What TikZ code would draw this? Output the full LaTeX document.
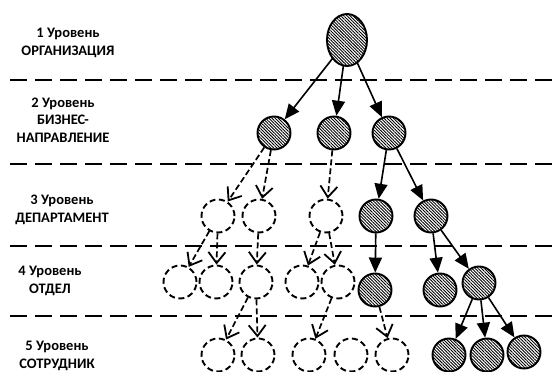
\documentclass[tikz,border=0pt]{standalone}
\usepackage{fontspec}
\setmainfont{Carlito}
\usetikzlibrary{arrows.meta,shapes.geometric,patterns.meta}

\begin{document}
\begin{tikzpicture}[x=1pt,y=-1pt,
   lvltext/.style={font=\bfseries\fontsize{14.5}{17.5}\selectfont, align=center},
   unit/.style={circle, line width=1.9pt, minimum size=33pt, inner sep=0pt},
   hatched/.style={draw=black, pattern={Lines[angle=-45,distance=2.2pt,line width=0.9pt]}, pattern color=black},
   empty/.style={draw=black, dash pattern=on 6pt off 3.5pt},
   solidarrow/.style={line width=1.6pt, -{Triangle[length=15pt,width=13pt]}},
   dasharrow/.style={line width=1.7pt, dash pattern=on 6pt off 3pt, -{Straight Barb[length=11pt,width=17pt,line width=1.8pt]}},
   levelline/.style={line width=1.6pt, dash pattern=on 17pt off 8pt}]
   \useasboundingbox (0,0) rectangle (555,372);

   % level texts
   \node[lvltext] (txt1) at (68,43) {1 Уровень\\ОРГАНИЗАЦИЯ};
   \node[lvltext] (txt2) at (63,120) {2 Уровень\\БИЗНЕС-\\НАПРАВЛЕНИЕ};
   \node[lvltext] (txt3) at (62,210) {3 Уровень\\ДЕПАРТАМЕНТ};
   \node[lvltext] (txt4) at (50,281) {4 Уровень\\ОТДЕЛ};
   \node[lvltext] (txt5) at (57,356) {5 Уровень\\СОТРУДНИК};

   % level borders
   \foreach \y in {80,164,246,316}
      \draw[levelline] (10,\y) -- (555,\y);

   % level 1
   \node[ellipse, line width=1.9pt, minimum width=40pt, minimum height=52pt, hatched] (org) at (347,40) {};

   % level 2
   \node[unit, hatched] (biz1) at (274,133) {};
   \node[unit, hatched] (biz2) at (334,133) {};
   \node[unit, hatched] (biz3) at (389,133) {};

   % level 3
   \node[unit, empty] (dep1) at (218,216) {};
   \node[unit, empty] (dep2) at (259,216) {};
   \node[unit, empty] (dep3) at (326,216) {};
   \node[unit, hatched] (dep4) at (376,216) {};
   \node[unit, hatched] (dep5) at (431,216) {};

   % level 4
   \node[unit, empty] (dpt1) at (180,282) {};
   \node[unit, empty] (dpt2) at (216,282) {};
   \node[unit, empty] (dpt3) at (256,282) {};
   \node[unit, empty] (dpt4) at (302,282) {};
   \node[unit, empty] (dpt5) at (338,282) {};
   \node[unit, hatched] (dpt6) at (375,290) {};
   \node[unit, hatched] (dpt7) at (440,290) {};
   \node[unit, hatched] (dpt8) at (479,283) {};

   % level 5
   \node[unit, empty] (emp1) at (218,355) {};
   \node[unit, empty] (emp2) at (258,355) {};
   \node[unit, empty] (emp3) at (309,355) {};
   \node[unit, empty] (emp4) at (351,355) {};
   \node[unit, empty] (emp5) at (392,355) {};
   \node[unit, hatched] (emp6) at (449,355) {};
   \node[unit, hatched] (emp7) at (487,355) {};
   \node[unit, hatched] (emp8) at (524,352) {};

   % links
   \foreach \t in {biz1,biz2,biz3}
      \draw[solidarrow] (org) -- (\t);
   \draw[dasharrow] (biz1) -- (dep1);
   \draw[dasharrow] (biz1) -- (dep2);
   \draw[dasharrow] (biz2) -- (dep3);
   \draw[solidarrow] (biz3) -- (dep4);
   \draw[solidarrow] (biz3) -- (dep5);

   \draw[dasharrow] (dep1) -- (dpt1);
   \draw[dasharrow] (dep1) -- (dpt2);
   \draw[dasharrow] (dep2) -- (dpt3);
   \draw[dasharrow] (dep3) -- (dpt4);
   \draw[dasharrow] (dep3) -- (dpt5);
   \draw[solidarrow] (dep4) -- (dpt6);
   \draw[solidarrow] (dep5) -- (dpt7);
   \draw[solidarrow] (dep5) -- (dpt8);

   \draw[dasharrow] (dpt3) -- (emp1);
   \draw[dasharrow] (dpt3) -- (emp2);
   \draw[dasharrow] (dpt5) -- (emp3);
   \draw[dasharrow] (dpt6) -- (emp5);
   \foreach \t in {emp6,emp7,emp8}
      \draw[solidarrow] (dpt8) -- (\t);
\end{tikzpicture}
\end{document}
